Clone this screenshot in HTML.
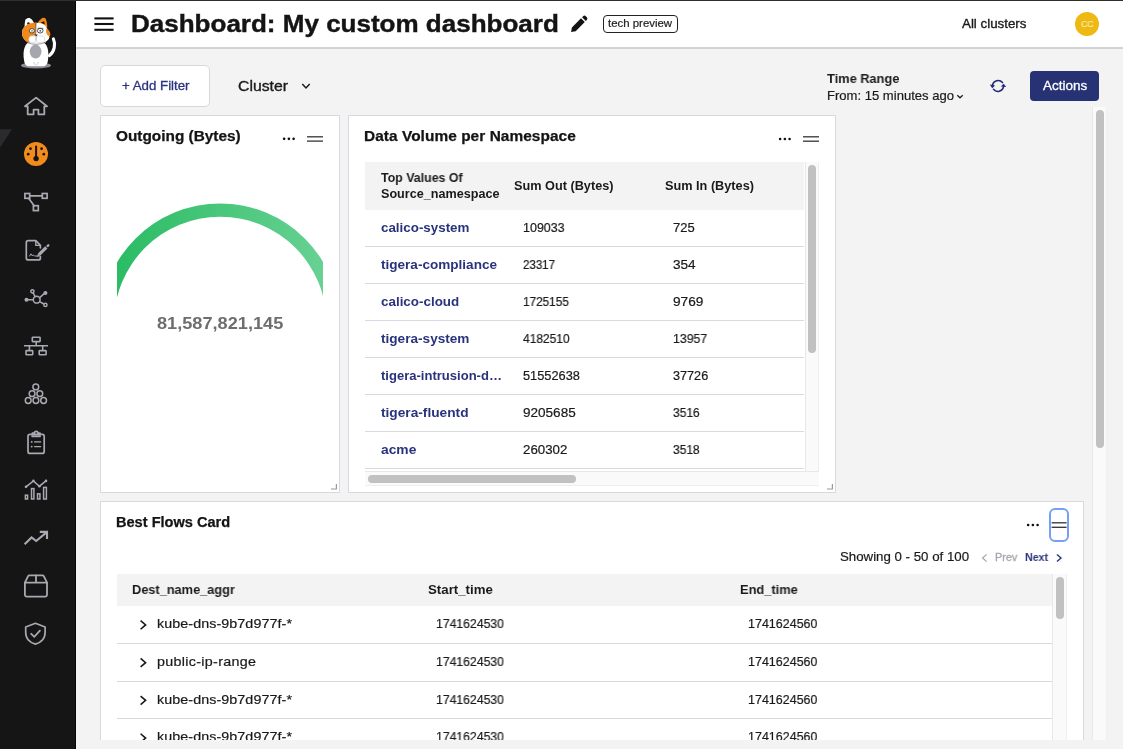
<!DOCTYPE html>
<html><head><meta charset="utf-8"><title>Dashboard</title>
<style>
html,body{margin:0;padding:0;}
body{width:1123px;height:749px;overflow:hidden;position:relative;background:#f3f3f3;font-family:"Liberation Sans",sans-serif;}
.t{position:absolute;white-space:nowrap;line-height:1em;transform-origin:0 50%;display:block;will-change:transform;}
.a{position:absolute;}
.card{position:absolute;background:#fff;border:1px solid #d8d9de;box-sizing:border-box;}
.ln{position:absolute;height:1px;background:#d9dadf;}
.thumb{position:absolute;background:#c1c1c1;border-radius:4px;}
.trk{position:absolute;background:#fafafa;box-sizing:border-box;}
svg{position:absolute;overflow:visible;}
</style></head><body>

<div class="a" style="left:0;top:0;width:76px;height:749px;background:#151515;border-right:1px solid #050505;box-sizing:border-box;"></div>
<svg style="left:0;top:0" width="76" height="749"><polygon points="0,129.2 12,129.2 0,147.5" fill="#2b2b2e"/></svg>
<svg style="left:0;top:0" width="76" height="749" viewBox="0 0 76 749">
<!-- cat logo -->
<g>
<ellipse cx="36" cy="65.4" rx="15" ry="3.1" fill="#8d8e95"/>
<path d="M49.4 55.6 C54.6 51.5 55.8 44 53.4 38.8" fill="none" stroke="#fff" stroke-width="3.1" stroke-linecap="round"/>
<path d="M24 60 C22.5 50 25 43.5 30 41.5 H42 C47 43.5 49.5 50 48 60 C47.5 64.5 45.5 66.3 43 66.3 H29 C26.5 66.3 24.5 64.5 24 60 Z" fill="#fff"/>
<path d="M33.5 62 l1.8 3.4 M38.5 62 l-1.8 3.4" stroke="#b9bac0" stroke-width="0.7" fill="none"/>
<ellipse cx="35.6" cy="51.6" rx="5.9" ry="7" fill="#a6a7ae"/>
<!-- ears -->
<path d="M24.6 27 C24.6 23 25 20.4 25.6 19.4 C26.6 18.2 28.2 17.6 29.6 18 C31.4 18.8 32.8 20.4 34 22.8 Z" fill="#fff"/>
<path d="M27 24.8 L27.4 22.4 L29.2 22.2 L30 24 Z" fill="#1b1b1b"/>
<path d="M37.6 23 C38.8 21 40.4 19.2 42 18.2 C43.2 17.6 44.6 17.6 45.4 18.4 C46.6 20 47.2 24 47.3 27.6 Z" fill="#f28a1a"/>
<path d="M40.6 22.6 L44.2 21.2 L44.9 24.6 Z" fill="#1b1b1b"/>
<!-- head -->
<path d="M36 22.8 C42 22.6 47.4 25.4 47.8 31 C48.2 33.5 49 35.4 49.4 36.6 C49.6 39.8 45.5 43.2 39.5 43.4 H33 C27 43.2 22 39 22 32.8 C22 26.6 29 22.8 36 22.8 Z" fill="#fff"/>
<path d="M36.2 22.8 C30 22.5 22 25.6 22 32.9 C22 38.2 25.4 41.8 30.2 43.2 C28.6 40.4 29.6 37.4 34.6 36 C36.2 32 35.4 27 36.2 22.8 Z" fill="#f28a1a"/>
<path d="M46.4 28.4 C49.4 29.6 51 33 50 36.2 C47.2 36 45.4 33 46.4 28.4 Z" fill="#f28a1a"/>
<path d="M36.1 23 C35.5 27 36.3 31.5 35.3 35.2" stroke="#222" stroke-width="0.6" fill="none"/>
<!-- eyes -->
<ellipse cx="31.9" cy="30.8" rx="2.5" ry="2.2" fill="#fff" stroke="#2a2a2a" stroke-width="0.8"/>
<circle cx="32" cy="30.9" r="0.8" fill="#777"/>
<ellipse cx="40.2" cy="30.7" rx="2.9" ry="2.3" fill="#fff" stroke="#2a2a2a" stroke-width="0.8"/>
<circle cx="40.3" cy="30.8" r="0.9" fill="#555"/>
<path d="M37.6 28.2 L43.4 28.4" stroke="#333" stroke-width="0.7"/>
<!-- muzzle -->
<ellipse cx="32.8" cy="39.2" rx="4.1" ry="3.4" fill="#fff" stroke="#c4c4ca" stroke-width="0.5"/>
<ellipse cx="40.2" cy="39.2" rx="4.6" ry="3.4" fill="#fff" stroke="#c4c4ca" stroke-width="0.5"/>
<path d="M34.6 34.6 h3.2 l-1.6 2 z" fill="#1b1b1b"/>
<path d="M36.2 36.6 V40.6" stroke="#999aa0" stroke-width="0.6"/>
<path d="M27.5 42.6 C32 44.8 40 44.8 46 42.2" stroke="#8f9097" stroke-width="0.9" fill="none"/>
</g>
<g fill="none" stroke="#a8a9b1" stroke-width="1.8" stroke-linejoin="round" stroke-linecap="round">
<!-- home -->
<path d="M36.1 97.6 L25 106.3 H27.7 V114.3 H33.6 V109.6 H38.4 V114.3 H44.3 V106.3 H47 Z" stroke-linejoin="round" stroke-linecap="butt"/>
<!-- polyline -->
<g stroke-width="1.7" stroke-linejoin="miter"><rect x="24.9" y="193.5" width="4.8" height="4.8"/><rect x="42.3" y="193.5" width="4.8" height="4.8"/><rect x="33.4" y="205.7" width="4.9" height="4.9"/><path d="M29.7 195.9 H42.3 M28.6 198.3 L34.2 205.7"/></g>
<!-- file signature -->
<g stroke-width="1.7"><path d="M40.4 247.8 V245.4 L35.8 240.7 H28.3 a2 2 0 0 0 -2 2 V257.9 a2 2 0 0 0 2 2 H38.4 a2 2 0 0 0 2 -2 V256.6"/><path d="M35.8 240.9 V245.4 H40.2" stroke-width="1.4"/><path d="M29.6 256 l1.3 -2.2 l1.3 2 l1 -1 l1.2 1.2 h2.4" stroke-width="1"/><path d="M39 254.6 L46.3 247.3" stroke-width="3.2" stroke-linecap="butt"/><path d="M47.6 246 L48.3 245.3" stroke-width="2.4"/><path d="M37.2 256.6 l1 -2.6 l1.7 1.7 z" fill="#a8a9b1" stroke-width="0.6"/></g>
<!-- hub -->
<g stroke-width="1.5"><circle cx="36.7" cy="299.7" r="3.4"/><circle cx="32.4" cy="291.3" r="1.6"/><circle cx="45.4" cy="293" r="1.3" fill="#a8a9b1"/><circle cx="26.5" cy="299.7" r="1.3" fill="#a8a9b1"/><circle cx="45.4" cy="304.9" r="1.6"/><path d="M35.1 296.6 L33.2 292.8 M39.7 297.6 L43.9 293.9 M33.2 299.7 H28.2 M39.6 301.6 L43.9 304"/></g>
<!-- network wired -->
<g stroke-width="1.6" stroke-linejoin="miter" stroke-linecap="butt"><rect x="32.3" y="337.2" width="7.8" height="4.4" rx="0.6"/><rect x="26" y="350.6" width="6.7" height="4.2" rx="0.6"/><rect x="39.2" y="350.6" width="6.9" height="4.2" rx="0.6"/><path d="M24 345.8 H48 M36.2 341.6 V345.8 M29.4 345.8 V350.6 M42.7 345.8 V350.6"/></g>
<!-- pyramid circles -->
<g stroke-width="1.5"><circle cx="35.8" cy="386.9" r="2.9"/><circle cx="32.1" cy="393.7" r="2.9"/><circle cx="39.8" cy="393.7" r="2.9"/><circle cx="28.2" cy="400.5" r="2.9"/><circle cx="35.9" cy="400.5" r="2.9"/><circle cx="43.6" cy="400.5" r="2.9"/></g>
<!-- clipboard -->
<g stroke-width="1.7"><rect x="28" y="434.4" width="16.2" height="19" rx="2"/><path d="M32.4 434.4 V433.2 H34.4 a1.8 1.8 0 0 1 3.6 0 H40 V434.4" /><path d="M32.2 436.2 H40" stroke-width="2"/><path d="M34.6 441.9 H40.6 M34.6 446.6 H40.6" stroke-width="1.4"/><path d="M31.6 441.9 h0.2 M31.6 446.6 h0.2" stroke-width="1.7"/></g>
<!-- chart -->
<g stroke-width="1.5" stroke-linejoin="miter"><rect x="25.4" y="495.2" width="2.2" height="3.8"/><rect x="31.5" y="488.6" width="2.4" height="10.4"/><rect x="37.5" y="493.8" width="2.4" height="5.2"/><rect x="43.6" y="487.4" width="2.8" height="11.6"/><path d="M26 486.8 L33.4 480.9 L39.4 486.2 L46 480.9" stroke-width="1.5"/></g>
<g fill="#a8a9b1" stroke="none"><circle cx="26" cy="486.8" r="1.3"/><circle cx="33.4" cy="480.9" r="1.3"/><circle cx="39.4" cy="486.2" r="1.3"/><circle cx="46" cy="480.9" r="1.3"/></g>
<!-- trending up -->
<g stroke-width="2.1" stroke-linejoin="miter" stroke-linecap="butt"><path d="M24.6 544.3 L31.6 537.4 L36.2 541 L46.2 532.6"/><path d="M39.8 531.9 H47 V539"/></g>
<!-- box -->
<g stroke-width="1.8"><path d="M24.9 582.6 V594.8 a1.8 1.8 0 0 0 1.8 1.8 H45.2 a1.8 1.8 0 0 0 1.8 -1.8 V582.6 L43.8 576.2 a1.6 1.6 0 0 0 -1.4 -0.9 H29.5 a1.6 1.6 0 0 0 -1.4 0.9 Z"/><path d="M24.9 582.6 H47 M36 575.3 V582.6"/></g>
<!-- shield check -->
<g stroke-width="1.7"><path d="M35.4 623.3 L25.7 627 V632.6 C25.7 638.8 30 642.8 35.4 644.1 C40.8 642.8 45.1 638.8 45.1 632.6 V627 Z"/><path d="M31.2 633.8 L34.3 636.8 L39.9 630.6" stroke-width="1.8" stroke-linejoin="miter"/></g>
</g>
<!-- active dashboard -->
<circle cx="36" cy="154" r="12" fill="#f28b1d"/>
<g fill="#151515"><circle cx="30.5" cy="148.7" r="1.35"/><circle cx="41.6" cy="148.7" r="1.35"/><circle cx="28.2" cy="154.2" r="1.35"/><circle cx="43.8" cy="154.2" r="1.35"/><circle cx="36.1" cy="158.6" r="2.7"/><rect x="35.1" y="145.4" width="2" height="12" rx="1"/></g>
</svg>

<div class="a" style="left:76px;top:0;width:1047px;height:47px;background:#fff;border-bottom:2px solid #d2d3d8;"></div>
<div class="a" style="left:0;top:0;width:1123px;height:1px;background:#2e2e2e;"></div>
<svg style="left:0;top:0" width="1123" height="60"><g stroke="#111" stroke-width="2.1"><line x1="94.4" x2="113.6" y1="18.4" y2="18.4"/><line x1="94.4" x2="113.6" y1="24" y2="24"/><line x1="94.4" x2="113.6" y1="29.8" y2="29.8"/></g></svg>
<span class="t" style="left:131.05px;top:12.18px;font-size:24px;color:#141414;font-weight:700;-webkit-text-stroke:0.4px #141414;letter-spacing:0.000px;transform:scaleX(1.0839);">Dashboard: My custom dashboard</span>
<svg style="left:570px;top:15px" width="18" height="18" viewBox="0 0 18 18"><path d="M1.1 17 L1.9 12.4 L11 3.3 L14.8 7.1 L5.7 16.2 Z M12.1 2.3 L13.1 1.3 a1.9 1.9 0 0 1 2.7 0 L16.8 2.3 a1.9 1.9 0 0 1 0 2.7 L15.8 6 Z" fill="#141414"/></svg>

<div class="a" style="left:603px;top:15px;width:75px;height:18px;box-sizing:border-box;border:1px solid #222;border-radius:4px;"></div>
<span class="t" style="left:608.37px;top:18.19px;font-size:11px;color:#222;-webkit-text-stroke:0.2px #222;letter-spacing:0.000px;transform:scaleX(1.0379);">tech preview</span>
<span class="t" style="left:962.09px;top:17.10px;font-size:13px;color:#1a1a1a;-webkit-text-stroke:0.35px #1a1a1a;letter-spacing:-0.000px;transform:scaleX(1.0252);">All clusters</span>
<div class="a" style="left:1075px;top:12px;width:24px;height:24px;border-radius:12px;background:#edb912;"></div>
<span class="t" style="left:1080.90px;top:18.96px;font-size:9.5px;color:#fbeab0;-webkit-text-stroke:0.15px #fbeab0;letter-spacing:0.000px;transform:scaleX(0.9183);">CC</span>
<div class="a" style="left:100px;top:65px;width:110px;height:42px;box-sizing:border-box;border:1px solid #d7d8de;border-radius:5px;background:#fff;"></div>
<span class="t" style="left:121.62px;top:79.00px;font-size:13px;color:#2a3580;-webkit-text-stroke:0.3px #2a3580;letter-spacing:0.000px;transform:scaleX(1.0215);">+ Add Filter</span>
<span class="t" style="left:238.19px;top:79.23px;font-size:14.5px;color:#1a1a1a;-webkit-text-stroke:0.35px #1a1a1a;letter-spacing:0.000px;transform:scaleX(1.0877);">Cluster</span>
<svg style="left:0;top:0" width="1123" height="120"><polyline points="302.3,84 306,87.9 309.7,84" fill="none" stroke="#1a1a1a" stroke-width="1.5"/><polyline points="957.3,95.2 960,97.8 962.7,95.2" fill="none" stroke="#1a1a1a" stroke-width="1.2"/></svg>
<span class="t" style="left:826.80px;top:72.00px;font-size:13px;color:#1a1a1a;font-weight:700;letter-spacing:0.000px;transform:scaleX(0.9862);">Time Range</span>
<span class="t" style="left:826.80px;top:89.00px;font-size:13px;color:#1a1a1a;-webkit-text-stroke:0.2px #1a1a1a;letter-spacing:0.000px;transform:scaleX(1.0041);">From: 15 minutes ago</span>
<svg style="left:0;top:0" width="1123" height="120"><g fill="none" stroke="#1f2a75" stroke-width="1.55" stroke-linecap="round"><path d="M1002.5 82.6 A5.7 5.7 0 0 0 992.5 85.2"/><path d="M993.5 89.3 A5.7 5.7 0 0 0 1003.5 86.8"/></g><path d="M989.8 84.6 L995.2 85.6 L992.2 88.2 Z" fill="#1f2a75"/><path d="M1003.7 83.7 L1006.2 86.9 L1000.8 86.6 Z" fill="#1f2a75"/></svg>

<div class="a" style="left:1030px;top:71px;width:69px;height:30px;border-radius:4px;background:#263274;"></div>
<span class="t" style="left:1042.74px;top:79.00px;font-size:13px;color:#fff;-webkit-text-stroke:0.3px #fff;letter-spacing:-0.000px;transform:scaleX(1.0354);">Actions</span>
<div class="trk" style="left:1092px;top:107px;width:14px;height:633px;border-left:1px solid #e9e9e9;"></div>
<div class="a" style="left:1106px;top:107px;width:1px;height:633px;background:#f0f0f0;"></div>
<div class="thumb" style="left:1095.8px;top:110px;width:8.4px;height:338px;border-radius:4.2px;"></div>
<div class="card" style="left:100px;top:115px;width:240px;height:378px;"></div>
<span class="t" style="left:116.30px;top:129.15px;font-size:14px;color:#141414;font-weight:700;-webkit-text-stroke:0.25px #141414;letter-spacing:-0.000px;transform:scaleX(1.0975);">Outgoing (Bytes)</span>
<svg style="left:0;top:0" width="1123" height="749"><circle cx="284.12" cy="138.85" r="1.3" fill="#111"/><circle cx="288.88" cy="138.85" r="1.3" fill="#111"/><circle cx="293.62" cy="138.85" r="1.3" fill="#111"/><g stroke="#3c3c3c" stroke-width="1.35"><line x1="307" x2="323" y1="136.8" y2="136.8"/><line x1="307" x2="323" y1="141.1" y2="141.1"/></g><polyline points="336.4,484 336.4,489.0 331,489.0" fill="none" stroke="#9a9a9a" stroke-width="1.2"/></svg>
<svg style="left:117px;top:195px;overflow:hidden" width="206.3" height="135" viewBox="117 195 206.3 135">
<defs><linearGradient id="gg" x1="117" x2="323" y1="0" y2="0" gradientUnits="userSpaceOnUse"><stop offset="0" stop-color="#2bbc64"/><stop offset="1" stop-color="#67d193"/></linearGradient></defs>
<path d="M100.6 323 A119.6 119.6 0 0 1 339.8 323 L326.5 323 A106.3 106.3 0 0 0 113.9 323 Z" fill="url(#gg)"/></svg>
<span class="t" style="left:157.00px;top:314.61px;font-size:17px;color:#6e6e6e;font-weight:700;letter-spacing:0.000px;transform:scaleX(1.0688);">81,587,821,145</span>
<div class="card" style="left:348px;top:115px;width:488px;height:378px;"></div>
<span class="t" style="left:364.05px;top:129.15px;font-size:14px;color:#141414;font-weight:700;-webkit-text-stroke:0.25px #141414;letter-spacing:0.056px;transform:scaleX(1.1000);">Data Volume per Namespace</span>
<svg style="left:0;top:0" width="1123" height="749"><circle cx="780.12" cy="139.0" r="1.3" fill="#111"/><circle cx="784.88" cy="139.0" r="1.3" fill="#111"/><circle cx="789.62" cy="139.0" r="1.3" fill="#111"/><g stroke="#3c3c3c" stroke-width="1.35"><line x1="803" x2="819" y1="136.8" y2="136.8"/><line x1="803" x2="819" y1="141.2" y2="141.2"/></g><polyline points="832.4,484 832.4,489.0 827,489.0" fill="none" stroke="#9a9a9a" stroke-width="1.2"/></svg>
<div class="a" style="left:365px;top:162px;width:439px;height:47.5px;background:#f3f3f3;"></div>
<span class="t" style="left:381.21px;top:172.17px;font-size:12.5px;color:#1a1a1a;font-weight:700;letter-spacing:0.000px;transform:scaleX(0.9907);">Top Values Of</span>
<span class="t" style="left:381.21px;top:188.17px;font-size:12.5px;color:#1a1a1a;font-weight:700;letter-spacing:0.000px;transform:scaleX(1.0090);">Source_namespace</span>
<span class="t" style="left:514.46px;top:180.17px;font-size:12.5px;color:#1a1a1a;font-weight:700;letter-spacing:0.000px;transform:scaleX(1.0163);">Sum Out (Bytes)</span>
<span class="t" style="left:664.96px;top:180.17px;font-size:12.5px;color:#1a1a1a;font-weight:700;letter-spacing:0.000px;transform:scaleX(1.0163);">Sum In (Bytes)</span>
<span class="t" style="left:381.33px;top:221.00px;font-size:13px;color:#28337c;font-weight:700;letter-spacing:0.000px;transform:scaleX(1.0280);">calico-system</span>
<span class="t" style="left:522.74px;top:222.17px;font-size:12.5px;color:#1a1a1a;-webkit-text-stroke:0.2px #1a1a1a;letter-spacing:0.000px;transform:scaleX(0.9965);">109033</span>
<span class="t" style="left:672.95px;top:222.17px;font-size:12.5px;color:#1a1a1a;-webkit-text-stroke:0.2px #1a1a1a;letter-spacing:0.000px;transform:scaleX(1.0400);">725</span>
<div class="ln" style="left:365px;top:246px;width:439px;"></div>
<span class="t" style="left:381.33px;top:258.00px;font-size:13px;color:#28337c;font-weight:700;letter-spacing:0.000px;transform:scaleX(1.0425);">tigera-compliance</span>
<span class="t" style="left:522.74px;top:259.17px;font-size:12.5px;color:#1a1a1a;-webkit-text-stroke:0.2px #1a1a1a;letter-spacing:0.000px;transform:scaleX(0.9214);">23317</span>
<span class="t" style="left:672.95px;top:259.17px;font-size:12.5px;color:#1a1a1a;-webkit-text-stroke:0.2px #1a1a1a;letter-spacing:0.000px;transform:scaleX(1.0840);">354</span>
<div class="ln" style="left:365px;top:283px;width:439px;"></div>
<span class="t" style="left:381.33px;top:295.00px;font-size:13px;color:#28337c;font-weight:700;letter-spacing:0.000px;transform:scaleX(1.0313);">calico-cloud</span>
<span class="t" style="left:522.74px;top:296.17px;font-size:12.5px;color:#1a1a1a;-webkit-text-stroke:0.2px #1a1a1a;letter-spacing:0.000px;transform:scaleX(0.9419);">1725155</span>
<span class="t" style="left:672.95px;top:296.17px;font-size:12.5px;color:#1a1a1a;-webkit-text-stroke:0.2px #1a1a1a;letter-spacing:0.000px;transform:scaleX(1.0907);">9769</span>
<div class="ln" style="left:365px;top:320px;width:439px;"></div>
<span class="t" style="left:381.33px;top:332.00px;font-size:13px;color:#28337c;font-weight:700;letter-spacing:-0.000px;transform:scaleX(1.0463);">tigera-system</span>
<span class="t" style="left:522.74px;top:333.17px;font-size:12.5px;color:#1a1a1a;-webkit-text-stroke:0.2px #1a1a1a;letter-spacing:0.000px;transform:scaleX(0.9579);">4182510</span>
<span class="t" style="left:672.95px;top:333.17px;font-size:12.5px;color:#1a1a1a;-webkit-text-stroke:0.2px #1a1a1a;letter-spacing:0.000px;transform:scaleX(0.9836);">13957</span>
<div class="ln" style="left:365px;top:357px;width:439px;"></div>
<span class="t" style="left:381.33px;top:369.00px;font-size:13px;color:#28337c;font-weight:700;letter-spacing:0.000px;transform:scaleX(1.0029);">tigera-intrusion-d…</span>
<span class="t" style="left:522.74px;top:370.17px;font-size:12.5px;color:#1a1a1a;-webkit-text-stroke:0.2px #1a1a1a;letter-spacing:0.000px;transform:scaleX(1.0245);">51552638</span>
<span class="t" style="left:672.95px;top:370.17px;font-size:12.5px;color:#1a1a1a;-webkit-text-stroke:0.2px #1a1a1a;letter-spacing:0.000px;transform:scaleX(1.0116);">37726</span>
<div class="ln" style="left:365px;top:394px;width:439px;"></div>
<span class="t" style="left:381.33px;top:406.00px;font-size:13px;color:#28337c;font-weight:700;letter-spacing:0.000px;transform:scaleX(1.0539);">tigera-fluentd</span>
<span class="t" style="left:522.74px;top:407.17px;font-size:12.5px;color:#1a1a1a;-webkit-text-stroke:0.2px #1a1a1a;letter-spacing:-0.000px;transform:scaleX(1.0832);">9205685</span>
<span class="t" style="left:672.95px;top:407.17px;font-size:12.5px;color:#1a1a1a;-webkit-text-stroke:0.2px #1a1a1a;letter-spacing:0.000px;transform:scaleX(0.9594);">3516</span>
<div class="ln" style="left:365px;top:431px;width:439px;"></div>
<span class="t" style="left:381.33px;top:443.00px;font-size:13px;color:#28337c;font-weight:700;letter-spacing:0.000px;transform:scaleX(1.0627);">acme</span>
<span class="t" style="left:522.74px;top:444.17px;font-size:12.5px;color:#1a1a1a;-webkit-text-stroke:0.2px #1a1a1a;letter-spacing:0.000px;transform:scaleX(1.0617);">260302</span>
<span class="t" style="left:672.95px;top:444.17px;font-size:12.5px;color:#1a1a1a;-webkit-text-stroke:0.2px #1a1a1a;letter-spacing:0.000px;transform:scaleX(0.9580);">3518</span>
<div class="ln" style="left:365px;top:468px;width:439px;"></div>
<div class="trk" style="left:804.5px;top:162px;width:14.5px;height:309px;border-left:1px solid #e8e8e8;border-right:1px solid #efefef;"></div>
<div class="thumb" style="left:808px;top:165px;width:7.75px;height:187.5px;"></div>
<div class="trk" style="left:365px;top:471px;width:454px;height:15px;border-top:1px solid #e8e8e8;border-bottom:1px solid #efefef;"></div>
<div class="thumb" style="left:368px;top:475px;width:207.75px;height:7.75px;"></div>
<div class="card" style="left:100px;top:501px;width:984px;height:260px;"></div>
<span class="t" style="left:116.30px;top:515.15px;font-size:14px;color:#141414;font-weight:700;-webkit-text-stroke:0.25px #141414;letter-spacing:0.000px;transform:scaleX(1.0407);">Best Flows Card</span>
<div class="a" style="left:1049px;top:508px;width:19.5px;height:34px;box-sizing:border-box;border:2px solid #76a0f7;border-radius:6px;background:#fff;"></div>
<svg style="left:0;top:0" width="1123" height="749"><circle cx="1028.12" cy="525" r="1.3" fill="#111"/><circle cx="1032.88" cy="525" r="1.3" fill="#111"/><circle cx="1037.62" cy="525" r="1.3" fill="#111"/><g stroke="#3a3a3a" stroke-width="1.35"><line x1="1051.6" x2="1066.6" y1="522.8" y2="522.8"/><line x1="1051.6" x2="1066.6" y1="527.3" y2="527.3"/></g><polyline points="986.6,554.4 982.6,558 986.6,561.6" fill="none" stroke="#a3a4ac" stroke-width="1.2"/><polyline points="1057,554.4 1061,558 1057,561.6" fill="none" stroke="#28337c" stroke-width="1.4"/></svg>
<span class="t" style="left:839.73px;top:550.00px;font-size:13px;color:#1a1a1a;-webkit-text-stroke:0.2px #1a1a1a;letter-spacing:0.000px;transform:scaleX(1.0202);">Showing 0 - 50 of 100</span>
<span class="t" style="left:994.54px;top:552.19px;font-size:11px;color:#a3a4ac;-webkit-text-stroke:0.3px #a3a4ac;letter-spacing:0.000px;transform:scaleX(0.9860);">Prev</span>
<span class="t" style="left:1024.89px;top:552.19px;font-size:11px;color:#28337c;font-weight:700;letter-spacing:0.000px;transform:scaleX(0.9666);">Next</span>
<div class="a" style="left:117px;top:574px;width:935px;height:31.5px;background:#f3f3f3;"></div>
<span class="t" style="left:132.22px;top:583.00px;font-size:13px;color:#1a1a1a;font-weight:700;letter-spacing:0.000px;transform:scaleX(0.9823);">Dest_name_aggr</span>
<span class="t" style="left:428.47px;top:583.00px;font-size:13px;color:#1a1a1a;font-weight:700;letter-spacing:0.000px;transform:scaleX(1.0199);">Start_time</span>
<span class="t" style="left:739.81px;top:583.00px;font-size:13px;color:#1a1a1a;font-weight:700;letter-spacing:0.000px;transform:scaleX(0.9877);">End_time</span>
<span class="t" style="left:156.73px;top:617.00px;font-size:13px;color:#1a1a1a;-webkit-text-stroke:0.2px #1a1a1a;letter-spacing:0.070px;transform:scaleX(1.1000);">kube-dns-9b7d977f-*</span>
<span class="t" style="left:436.09px;top:618.17px;font-size:12.5px;color:#1a1a1a;-webkit-text-stroke:0.2px #1a1a1a;letter-spacing:0.000px;transform:scaleX(0.9771);">1741624530</span>
<span class="t" style="left:747.53px;top:618.17px;font-size:12.5px;color:#1a1a1a;-webkit-text-stroke:0.2px #1a1a1a;letter-spacing:0.000px;transform:scaleX(0.9981);">1741624560</span>
<div class="ln" style="left:117px;top:643px;width:935px;"></div>
<span class="t" style="left:156.73px;top:655.20px;font-size:13px;color:#1a1a1a;-webkit-text-stroke:0.2px #1a1a1a;letter-spacing:0.288px;transform:scaleX(1.1000);">public-ip-range</span>
<span class="t" style="left:436.09px;top:656.12px;font-size:12.5px;color:#1a1a1a;-webkit-text-stroke:0.2px #1a1a1a;letter-spacing:0.000px;transform:scaleX(0.9771);">1741624530</span>
<span class="t" style="left:747.53px;top:656.12px;font-size:12.5px;color:#1a1a1a;-webkit-text-stroke:0.2px #1a1a1a;letter-spacing:0.000px;transform:scaleX(0.9981);">1741624560</span>
<div class="ln" style="left:117px;top:681px;width:935px;"></div>
<span class="t" style="left:156.73px;top:693.15px;font-size:13px;color:#1a1a1a;-webkit-text-stroke:0.2px #1a1a1a;letter-spacing:0.070px;transform:scaleX(1.1000);">kube-dns-9b7d977f-*</span>
<span class="t" style="left:436.09px;top:694.07px;font-size:12.5px;color:#1a1a1a;-webkit-text-stroke:0.2px #1a1a1a;letter-spacing:0.000px;transform:scaleX(0.9771);">1741624530</span>
<span class="t" style="left:747.53px;top:694.07px;font-size:12.5px;color:#1a1a1a;-webkit-text-stroke:0.2px #1a1a1a;letter-spacing:0.000px;transform:scaleX(0.9981);">1741624560</span>
<div class="ln" style="left:117px;top:718px;width:935px;"></div>
<span class="t" style="left:156.73px;top:730.10px;font-size:13px;color:#1a1a1a;-webkit-text-stroke:0.2px #1a1a1a;letter-spacing:0.070px;transform:scaleX(1.1000);">kube-dns-9b7d977f-*</span>
<span class="t" style="left:436.09px;top:731.02px;font-size:12.5px;color:#1a1a1a;-webkit-text-stroke:0.2px #1a1a1a;letter-spacing:0.000px;transform:scaleX(0.9771);">1741624530</span>
<span class="t" style="left:747.53px;top:731.02px;font-size:12.5px;color:#1a1a1a;-webkit-text-stroke:0.2px #1a1a1a;letter-spacing:0.000px;transform:scaleX(0.9981);">1741624560</span>
<svg style="left:0;top:0" width="1123" height="749"><polyline points="140.6,620.65 145.6,624.95 140.6,629.25" fill="none" stroke="#1a1a1a" stroke-width="1.6"/><polyline points="140.6,658.35 145.6,662.65 140.6,666.95" fill="none" stroke="#1a1a1a" stroke-width="1.6"/><polyline points="140.6,696.05 145.6,700.35 140.6,704.65" fill="none" stroke="#1a1a1a" stroke-width="1.6"/><polyline points="140.6,733.75 145.6,738.05 140.6,742.35" fill="none" stroke="#1a1a1a" stroke-width="1.6"/></svg>
<div class="trk" style="left:1052px;top:574px;width:15px;height:180px;border-left:1px solid #e8e8e8;border-right:1px solid #f0f0f0;"></div>
<div class="thumb" style="left:1055.75px;top:576.75px;width:8px;height:41.75px;"></div>
<div class="a" style="left:76px;top:740px;width:1047px;height:9px;background:#f3f3f3;"></div>
</body></html>
